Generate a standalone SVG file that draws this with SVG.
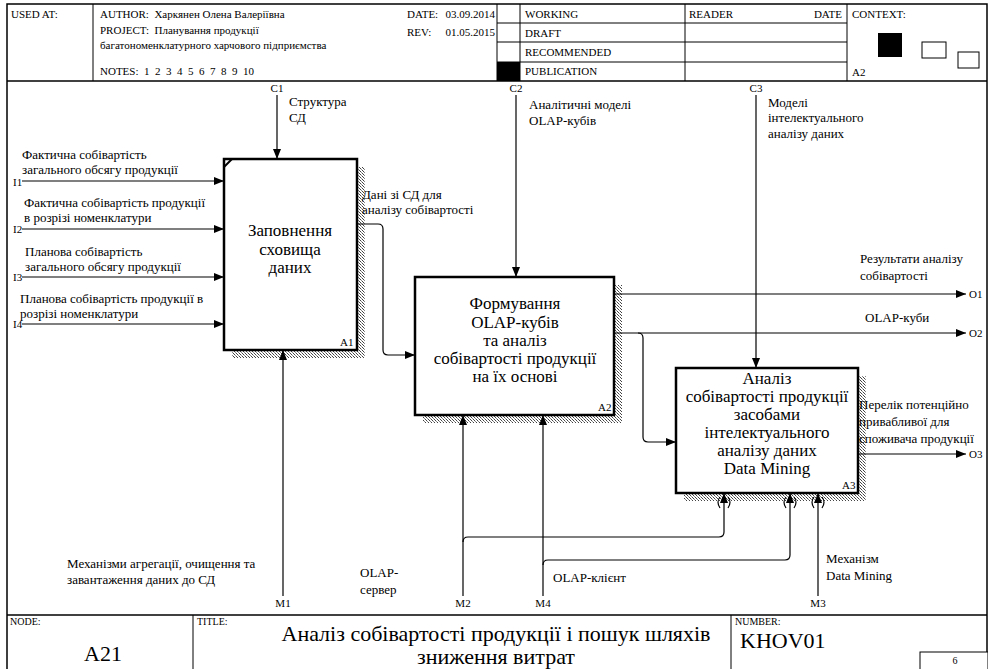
<svg xmlns="http://www.w3.org/2000/svg" width="988" height="669" viewBox="0 0 988 669">
<style>
text{font-family:"Liberation Serif","Times New Roman",serif}
.h{font-size:11px}
.s{font-size:10px}
.l{font-size:13px}
.b{font-size:17px;text-anchor:middle}
.t{font-size:22px}
.c{text-anchor:middle}
.frame{fill:none;stroke:#000;stroke-width:1.5}
.thin{fill:none;stroke:#000;stroke-width:1}
.box{fill:#fff;stroke:#000;stroke-width:2.5}
.sh{fill:url(#shd)}
.cn{fill:none;stroke:#000;stroke-width:1.2}
.ar{fill:none;stroke:#000;stroke-width:1.2;marker-end:url(#ah)}
</style>
<defs>
<pattern id="shd" width="3" height="3" patternUnits="userSpaceOnUse">
<rect width="3" height="3" fill="#fff"/>
<rect x="0" y="0" width="1" height="1" fill="#444"/>
<rect x="1" y="1" width="1" height="1" fill="#888"/>
<rect x="2" y="2" width="1" height="1" fill="#444"/>
</pattern>
<marker id="ah" viewBox="0 0 10 8" refX="10" refY="4" markerWidth="10" markerHeight="8" markerUnits="userSpaceOnUse" orient="auto">
<path d="M0 0L10 4L0 8z" fill="#000"/>
</marker>
</defs>
<rect width="988" height="669" fill="#fff"/>

<g font-family="Liberation Serif, Times New Roman, serif" fill="#000">
<g id="frame">
<path class="frame" d="M7 669V4H987V669"/>
<path class="frame" d="M7 81H987"/>
<path class="thin" d="M93 4V81M497 4V81M520 4V81M685 4V81M847 4V81M497 23H847M497 42H847M497 62H847"/>
<rect x="497" y="62" width="23" height="19" fill="#000"/>
<rect x="878" y="33" width="24" height="24" fill="#000"/>
<rect x="922" y="42" width="24" height="16" fill="#fff" stroke="#000" stroke-width="1"/>
<rect x="958" y="52" width="21" height="16" fill="#fff" stroke="#000" stroke-width="1"/>
<text class="h" x="11" y="18">USED AT:</text>
<text class="h" x="100" y="18" xml:space="preserve">AUTHOR:  Харкянен Олена Валеріївна</text>
<text class="h" x="100" y="34" xml:space="preserve">PROJECT:  Планування продукції</text>
<text class="h" x="100" y="49">багатономенклатурного харчового підприємства</text>
<text class="h" x="100" y="75" xml:space="preserve">NOTES:  1  2  3  4  5  6  7  8  9  10</text>
<text class="h" x="407" y="18">DATE:</text>
<text class="h" x="495" y="18" text-anchor="end">03.09.2014</text>
<text class="h" x="407" y="36">REV:</text>
<text class="h" x="495" y="36" text-anchor="end">01.05.2015</text>
<text class="h" x="525" y="18">WORKING</text>
<text class="h" x="525" y="37">DRAFT</text>
<text class="h" x="525" y="56">RECOMMENDED</text>
<text class="h" x="525" y="75">PUBLICATION</text>
<text class="h" x="689" y="18">READER</text>
<text class="h" x="842" y="18" text-anchor="end">DATE</text>
<text class="h" x="852" y="18">CONTEXT:</text>
<text class="h" x="852" y="76">A2</text>
<path class="frame" d="M7 615H987"/>
<path class="thin" d="M193 615V669M731 615V669"/>
<rect x="920" y="652" width="68" height="20" fill="#fff" stroke="#000" stroke-width="1"/>
<text class="s" x="10" y="625">NODE:</text>
<text class="t c" x="103" y="661">A21</text>
<text class="s" x="197" y="625">TITLE:</text>
<text class="t c" x="496" y="641">Аналіз собівартості продукції і пошук шляхів</text>
<text class="t c" x="496" y="664">зниження витрат</text>
<text class="s" x="735" y="625">NUMBER:</text>
<text class="t" x="740" y="648">KHOV01</text>
<text class="s c" x="955" y="664">6</text>
</g>

<g id="A1">
<rect class="sh" x="357" y="167" width="8" height="191"/>
<rect class="sh" x="232" y="350" width="133" height="8"/>
<rect class="box" x="224" y="159" width="133" height="191"/>
<path d="M224 167L232 159" stroke="#000" stroke-width="2"/>
<text class="b" x="290" y="236">Заповнення</text>
<text class="b" x="290" y="255">сховища</text>
<text class="b" x="290" y="273">даних</text>
<text class="h" x="340" y="346">A1</text>
</g>

<g id="A2">
<rect class="sh" x="614" y="285" width="8" height="138"/>
<rect class="sh" x="423" y="415" width="199" height="8"/>
<rect class="box" x="415" y="277" width="199" height="138"/>
<text class="b" x="515" y="309">Формування</text>
<text class="b" x="515" y="328">OLAP-кубів</text>
<text class="b" x="515" y="346">та аналіз</text>
<text class="b" x="515" y="364">собівартості продукції</text>
<text class="b" x="515" y="382">на їх основі</text>
<text class="h" x="598" y="411">A2</text>
</g>

<g id="A3">
<rect class="sh" x="858" y="376" width="8" height="125"/>
<rect class="sh" x="684" y="493" width="182" height="8"/>
<rect class="box" x="676" y="368" width="182" height="125"/>
<text class="b" x="767" y="384">Аналіз</text>
<text class="b" x="767" y="402">собівартості продукції</text>
<text class="b" x="767" y="420">засобами</text>
<text class="b" x="767" y="438">інтелектуального</text>
<text class="b" x="767" y="456">аналізу даних</text>
<text class="b" x="767" y="474">Data Mining</text>
<text class="h" x="842" y="489">A3</text>
</g>

<g id="connectors">
<path class="ar" d="M277 95V159"/>
<text class="h c" x="277" y="92">C1</text>
<text class="l" x="289" y="106">Структура</text>
<text class="l" x="289" y="122">СД</text>

<path class="ar" d="M22 181H224"/>
<text class="h" x="13" y="186">I1</text>
<text class="l" x="22" y="159">Фактична собівартість</text>
<text class="l" x="22" y="174">загального обсягу продукції</text>

<path class="ar" d="M22 229H224"/>
<text class="h" x="13" y="233">I2</text>
<text class="l" x="24" y="207">Фактична собівартість продукції</text>
<text class="l" x="24" y="222">в розрізі номенклатури</text>

<path class="ar" d="M22 277H224"/>
<text class="h" x="13" y="281">I3</text>
<text class="l" x="25" y="256">Планова собівартість</text>
<text class="l" x="25" y="271">загального обсягу продукції</text>

<path class="ar" d="M22 324H224"/>
<text class="h" x="13" y="328">I4</text>
<text class="l" x="20" y="303">Планова собівартість продукції в</text>
<text class="l" x="20" y="318">розрізі номенклатури</text>

<path class="ar" d="M357 224H378Q383 224 383 229V350Q383 355 388 355H415"/>
<text class="l" x="362" y="199">Дані зі СД для</text>
<text class="l" x="362" y="214">аналізу собівартості</text>

<path class="ar" d="M516 95V277"/>
<text class="h c" x="516" y="92">C2</text>
<text class="l" x="529" y="109">Аналітичні моделі</text>
<text class="l" x="529" y="125">OLAP-кубів</text>

<path class="ar" d="M756 95V368"/>
<text class="h c" x="756" y="92">C3</text>
<text class="l" x="768" y="107">Моделі</text>
<text class="l" x="768" y="122">інтелектуального</text>
<text class="l" x="768" y="138">аналізу даних</text>

<path class="ar" d="M614 294H966"/>
<text class="h" x="969" y="298">O1</text>
<text class="l" x="860" y="263">Результати аналізу</text>
<text class="l" x="860" y="280">собівартості</text>

<path class="ar" d="M614 333H966"/>
<text class="h" x="969" y="337">O2</text>
<text class="l" x="865" y="322">OLAP-куби</text>

<path class="ar" d="M638 333Q643 333 643 338V437Q643 442 648 442H676"/>

<path class="ar" d="M858 454H966"/>
<text class="h" x="969" y="458">O3</text>
<text class="l" x="859" y="409">Перелік потенційно</text>
<text class="l" x="859" y="426">привабливої для</text>
<text class="l" x="859" y="443">споживача продукції</text>

<path class="ar" d="M283 596V350"/>
<text class="h c" x="283" y="607">M1</text>
<text class="l" x="67" y="568">Механізми агрегації, очищення та</text>
<text class="l" x="67" y="584">завантаження даних до СД</text>

<path class="ar" d="M463 596V415"/>
<text class="h c" x="463" y="607">M2</text>
<text class="l" x="360" y="577">OLAP-</text>
<text class="l" x="360" y="594">сервер</text>

<path class="ar" d="M543 596V415"/>
<text class="h c" x="543" y="607">M4</text>
<text class="l" x="553" y="582">OLAP-клієнт</text>

<path class="ar" d="M463 542Q463 537 468 537H719Q724 537 724 532V493"/>
<path class="ar" d="M543 565Q543 560 548 560H785Q790 560 790 555V493"/>

<path class="ar" d="M818 596V493"/>
<text class="h c" x="818" y="607">M3</text>
<text class="l" x="826" y="563">Механізм</text>
<text class="l" x="826" y="580">Data Mining</text>

<path class="cn" d="M720 497Q716 502 720 508M728 497Q732 502 728 508M786 497Q782 502 786 508M794 497Q798 502 794 508M814 497Q810 502 814 508M822 497Q826 502 822 508"/>
</g>
</g>
</svg>
